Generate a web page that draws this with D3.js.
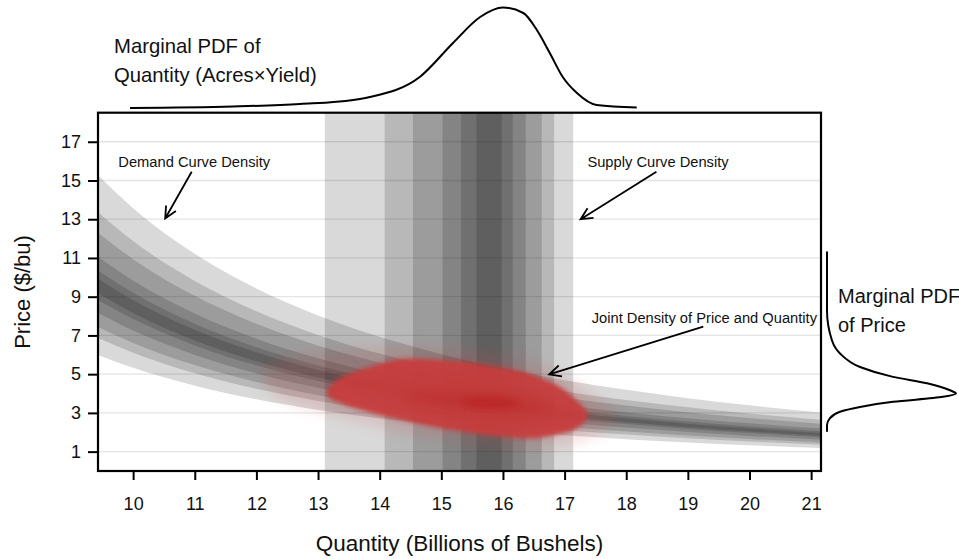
<!DOCTYPE html>
<html>
<head>
<meta charset="utf-8">
<script src="https://cdn.jsdelivr.net/npm/d3@7"></script>
<style>
  body { margin: 0; background: #fff; }
  svg { display: block; font-family: "Liberation Sans", Arial, sans-serif; }
</style>
</head>
<body>
<svg id="chart" width="959" height="559"></svg>
<script>
// Axes
const xTicks = [10, 11, 12, 13, 14, 15, 16, 17, 18, 19, 20, 21]
const yTicks = [1, 3, 5, 7, 9, 11, 13, 15, 17]

// Demand curve: median price along quantity, and the band multipliers (outer -> inner)
const demandQ = [9.43, 10, 11, 12, 13, 14, 15, 16, 17, 18, 19, 20, 21.16]
const demandMedian = [9.54, 8.48, 7.01, 5.89, 5.02, 4.33, 3.77, 3.31, 2.93, 2.62, 2.35, 2.12, 1.89]
const demandUpper = [1.60, 1.40, 1.29, 1.16, 1.085, 1.04]
const demandLower = [0.628, 0.72, 0.78, 0.855, 0.925, 0.962]

// Supply curve density: nested quantity intervals (outer -> inner)
const supplyLow = [13.11, 14.08, 14.54, 15.02, 15.32, 15.57]
const supplyHigh = [17.14, 16.83, 16.63, 16.37, 16.16, 15.98]

// Marginal PDF of quantity (relative density)
const pdfQ = [9.95, 11.62, 12.71, 13.57, 13.84, 14.65, 15.19, 15.63, 16.0, 16.33, 16.55, 16.76, 16.97, 17.2, 17.52, 18.17]
const pdfQDens = [0, 1.5, 4, 8, 11, 31, 65, 91, 100.5, 95, 78, 55, 31, 15, 3, 0.5]

// Marginal PDF of price (relative density)
const pdfP = [2.03, 2.37, 2.73, 3.06, 3.31, 3.57, 3.83, 4.0, 4.17, 4.53, 4.86, 5.37, 6.07, 6.74, 8.29, 11.33]
const pdfPDens = [0, 0, 3, 13, 33, 66, 116, 129, 123, 100, 66, 33, 13, 5, 0, 0]

// Joint density of price and quantity: outline of the point cloud [quantity, price]
const jointHalo = [[12.2, 5.5], [13.5, 6.2], [15.0, 6.3], [16.5, 5.6], [17.6, 3.6], [17.8, 2.6], [17.2, 1.5], [16.2, 1.3], [14.8, 1.8], [13.5, 2.7], [12.3, 3.9]]
const jointOuter = [[13.15, 4.15], [13.35, 4.8], [13.8, 5.35], [14.4, 5.8], [15.41, 5.62], [16.06, 5.3], [16.49, 4.95], [16.93, 4.34], [17.3, 3.31], [17.38, 2.8], [17.14, 2.12], [16.49, 1.69], [15.74, 1.86], [14.87, 2.29], [14.05, 2.85], [13.45, 3.4], [13.2, 3.75]]
const jointCore = [[14.5, 4.0], [15.2, 4.1], [16.0, 3.9], [16.7, 3.45], [16.6, 3.1], [15.8, 3.1], [15.0, 3.4], [14.5, 3.7]]
const jointPeak = [[15.45, 3.75], [15.9, 3.8], [16.25, 3.55], [16.1, 3.3], [15.6, 3.25], [15.35, 3.5]]

// Annotations [label, textQ, textP, arrow from [Q,P], arrow to [Q,P]]
const notes = [
    ['Demand Curve Density', 9.76, 15.7, [10.95, 15.45], [10.52, 13.04]],
    ['Supply Curve Density', 17.37, 15.7, [18.49, 15.45], [17.26, 13.0]],
    ['Joint Density of Price and Quantity', 17.44, 7.65, [19.25, 7.45], [16.75, 4.99]]
]

const svg = d3.select('#chart')
const L = 98, R = 821, T = 112.7, B = 471

const x = d3.scaleLinear().domain([9.43, 21.16]).range([L, R])
const y = d3.scaleLinear().domain([0, 18.5]).range([B, T])

// Filters + clip
const defs = svg.append('defs')
defs.append('clipPath').attr('id', 'plotClip').append('rect')
    .attr('x', L).attr('y', T).attr('width', R - L).attr('height', B - T)
const blurs = { blurHalo: 7, blurOuter: 2.2, blurCore: 4, blurPeak: 3 }
Object.keys(blurs).forEach(id => {
    defs.append('filter').attr('id', id).attr('x', '-20%').attr('y', '-40%').attr('width', '140%').attr('height', '180%')
        .append('feGaussianBlur').attr('stdDeviation', blurs[id])
})

const plot = svg.append('g').attr('clip-path', 'url(#plotClip)')

//Gridlines
plot.selectAll('.grid').data(yTicks).enter().append('line')
    .attr('x1', L).attr('x2', R).attr('y1', d => y(d)).attr('y2', d => y(d))
    .attr('stroke', '#e4e4e4').attr('stroke-width', 1.3)

//Supply bands
plot.selectAll('.supply').data(supplyLow).enter().append('rect')
    .attr('x', d => x(d)).attr('y', T)
    .attr('width', (d, i) => x(supplyHigh[i]) - x(d)).attr('height', B - T)
    .attr('fill', '#000').attr('fill-opacity', 0.15)

//Demand bands
const demandPts = demandQ.map((q, i) => ({ q: q, p: demandMedian[i] }))
demandUpper.forEach((up, i) => {
    const area = d3.area()
        .x(d => x(d.q))
        .y0(d => y(d.p * demandLower[i]))
        .y1(d => y(d.p * up))
        .curve(d3.curveMonotoneX)
    plot.append('path').attr('d', area(demandPts))
        .attr('fill', '#000').attr('fill-opacity', 0.15)
})

//Joint density cloud
const cloud = d3.line().x(d => x(d[0])).y(d => y(d[1])).curve(d3.curveCardinalClosed.tension(0.2))
plot.append('path').attr('d', cloud(jointHalo)).attr('fill', '#d24a4a').attr('opacity', 0.18).attr('filter', 'url(#blurHalo)')
plot.append('path').attr('d', cloud(jointOuter)).attr('fill', '#c83e3e').attr('opacity', 0.95).attr('filter', 'url(#blurOuter)')
plot.append('path').attr('d', cloud(jointCore)).attr('fill', '#bd2a2a').attr('opacity', 0.45).attr('filter', 'url(#blurCore)')
plot.append('path').attr('d', cloud(jointPeak)).attr('fill', '#b81a1a').attr('opacity', 0.5).attr('filter', 'url(#blurPeak)')

//Axes
const xAxis = svg.append('g').attr('transform', 'translate(0,' + B + ')')
    .call(d3.axisBottom(x).tickValues(xTicks).tickSize(9).tickPadding(17).tickFormat(d3.format('d')))
const yAxis = svg.append('g').attr('transform', 'translate(' + L + ',0)')
    .call(d3.axisLeft(y).tickValues(yTicks).tickSize(10).tickPadding(7).tickFormat(d3.format('d')))
;[xAxis, yAxis].forEach(a => {
    a.select('.domain').remove()
    a.selectAll('line').attr('stroke', '#000').attr('stroke-width', 2)
    a.selectAll('text').attr('font-size', 18).attr('fill', '#111').attr('font-family', '"Liberation Sans", Arial, sans-serif')
})

//Frame
svg.append('rect').attr('x', L).attr('y', T).attr('width', R - L).attr('height', B - T)
    .attr('fill', 'none').attr('stroke', '#000').attr('stroke-width', 2.2)

//Axis titles
svg.append('text').text('Quantity (Billions of Bushels)').attr('x', (L + R) / 2).attr('y', 551)
    .attr('text-anchor', 'middle').attr('font-size', 22.5).attr('fill', '#111')
svg.append('text').text('Price ($/bu)').attr('transform', 'translate(30,' + 292 + ') rotate(-90)')
    .attr('text-anchor', 'middle').attr('font-size', 22).attr('fill', '#111')

//Marginal PDF of quantity (top)
const dq = d3.scaleLinear().domain([0, 100.5]).range([108, 7.5])
svg.append('path')
    .attr('d', d3.line().x((d, i) => x(pdfQ[i])).y(d => dq(d)).curve(d3.curveMonotoneX)(pdfQDens))
    .attr('fill', 'none').attr('stroke', '#000').attr('stroke-width', 2)
svg.append('text').text('Marginal PDF of').attr('x', 114).attr('y', 53).attr('font-size', 20.3).attr('fill', '#111')
svg.append('text').text('Quantity (Acres×Yield)').attr('x', 114).attr('y', 82).attr('font-size', 20.3).attr('fill', '#111')

//Marginal PDF of price (right)
const dp = d3.scaleLinear().domain([0, 129]).range([827, 956])
svg.append('path')
    .attr('d', d3.line().x((d, i) => dp(d)).y((d, i) => y(pdfP[i])).curve(d3.curveMonotoneY)(pdfPDens))
    .attr('fill', 'none').attr('stroke', '#000').attr('stroke-width', 2)
svg.append('text').text('Marginal PDF').attr('x', 838).attr('y', 303).attr('font-size', 20).attr('fill', '#111')
svg.append('text').text('of Price').attr('x', 838).attr('y', 332).attr('font-size', 20).attr('fill', '#111')

//Annotations with open arrowheads
notes.forEach(n => {
    svg.append('text').text(n[0]).attr('x', x(n[1])).attr('y', y(n[2]))
        .attr('font-size', 14.7).attr('fill', '#111')
    const x1 = x(n[3][0]), y1 = y(n[3][1]), x2 = x(n[4][0]), y2 = y(n[4][1])
    const ang = Math.atan2(y2 - y1, x2 - x1)
    const hl = 13, ha = Math.PI / 7
    const head = 'M' + (x2 - hl * Math.cos(ang - ha)) + ',' + (y2 - hl * Math.sin(ang - ha)) +
        'L' + x2 + ',' + y2 +
        'L' + (x2 - hl * Math.cos(ang + ha)) + ',' + (y2 - hl * Math.sin(ang + ha))
    svg.append('path').attr('d', 'M' + x1 + ',' + y1 + 'L' + x2 + ',' + y2 + head)
        .attr('fill', 'none').attr('stroke', '#000').attr('stroke-width', 1.8)
})
</script>
</body>
</html>
